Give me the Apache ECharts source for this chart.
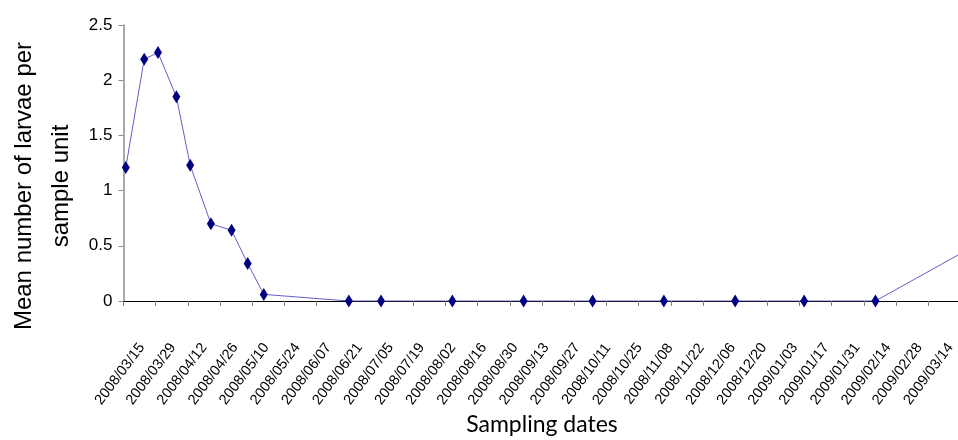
<!DOCTYPE html>
<html>
<head>
<meta charset="utf-8">
<script src="https://cdn.jsdelivr.net/npm/echarts@6/dist/echarts.min.js"></script>
<style>
html,body{margin:0;padding:0;background:#fff;}
#chart{width:958px;height:440px;}
</style>
</head>
<body>
<div id="chart"></div>
<script>
// ---- data ----
const startDate = '2008/03/15';
const tickLabels = ['2008/03/15','2008/03/29','2008/04/12','2008/04/26','2008/05/10','2008/05/24','2008/06/07',
  '2008/06/21','2008/07/05','2008/07/19','2008/08/02','2008/08/16','2008/08/30','2008/09/13','2008/09/27',
  '2008/10/11','2008/10/25','2008/11/08','2008/11/22','2008/12/06','2008/12/20','2009/01/03','2009/01/17',
  '2009/01/31','2009/02/14','2009/02/28','2009/03/14'];
const sampleDates = ['2008/03/16','2008/03/24','2008/03/30','2008/04/07','2008/04/13','2008/04/22','2008/05/01',
  '2008/05/08','2008/05/15','2008/06/21','2008/07/05','2008/08/05','2008/09/05','2008/10/05','2008/11/05',
  '2008/12/06','2009/01/05','2009/02/05','2009/03/21'];
const larvae = [1.21,2.19,2.25,1.85,1.23,0.70,0.64,0.34,0.06,0,0,0,0,0,0,0,0,0,0.51];
const yTicks = [0,0.5,1,1.5,2,2.5];

function toDay(s){
  const p = s.split('/').map(Number), q = startDate.split('/').map(Number);
  return Math.round((Date.UTC(p[0],p[1]-1,p[2]) - Date.UTC(q[0],q[1]-1,q[2]))/86400000);
}
const STEP = 14;
const lastDay = toDay(tickLabels[tickLabels.length-1]);
const seriesData = sampleDates.map((d,i)=>[toDay(d), larvae[i]]);
const fmt = v => { const i = Math.round(v/STEP); return tickLabels[i] || ''; };

const chart = echarts.init(document.getElementById('chart'), null, {renderer:'canvas'});
chart.setOption({
  animation:false,
  backgroundColor:'#fff',
  grid:[
    {left:123.5, right:-2.5, top:25, bottom:139, containLabel:false, outerBoundsMode:'none'},
    {left:120, right:29.4, top:25, bottom:139, containLabel:false, outerBoundsMode:'none'}
  ],
  xAxis:[
    {type:'value', gridIndex:0, min:0, max:lastDay, interval:STEP,
     axisLine:{show:true, onZero:false, lineStyle:{color:'#000', width:1}},
     axisTick:{show:true, length:5, lineStyle:{color:'#808080'}},
     axisLabel:{show:false}, splitLine:{show:false},
     name:'Sampling dates', nameLocation:'middle', nameGap:112,
     nameTextStyle:{fontFamily:'Lato', fontSize:23, color:'#000'}},
    {type:'value', gridIndex:1, min:0, max:lastDay, interval:STEP,
     axisLine:{show:false}, axisTick:{show:false}, splitLine:{show:false},
     axisLabel:{show:true, rotate:53, margin:73, align:'center', verticalAlign:'middle',
       fontFamily:'Liberation Sans', fontSize:14.5, color:'#000', formatter:fmt, hideOverlap:false,
       showMinLabel:true, showMaxLabel:true}}
  ],
  yAxis:[
    {type:'value', gridIndex:0, min:yTicks[0], max:yTicks[yTicks.length-1], interval:0.5,
     axisLine:{show:true, lineStyle:{color:'#8c8c8c', width:1.5}},
     axisTick:{show:true, length:5, lineStyle:{color:'#8c8c8c'}},
     splitLine:{show:false},
     axisLabel:{margin:11, fontFamily:'Liberation Sans', fontSize:17, color:'#000'}},
    {type:'value', gridIndex:1, show:false}
  ],
  graphic:[
    {type:'text', x:43, y:186, rotation:Math.PI/2,
     style:{text:'Mean number of larvae per\nsample unit', fontFamily:'Liberation Sans', fontSize:24,
       lineHeight:37, fill:'#000', align:'center', verticalAlign:'middle'}}
  ],
  series:[
    {type:'line', xAxisIndex:0, yAxisIndex:0, data:seriesData, clip:true,
     symbol:'diamond', symbolSize:[8,13],
     lineStyle:{color:'#6060c8', width:1},
     itemStyle:{color:'#000080'}}
  ]
});
</script>
</body>
</html>
